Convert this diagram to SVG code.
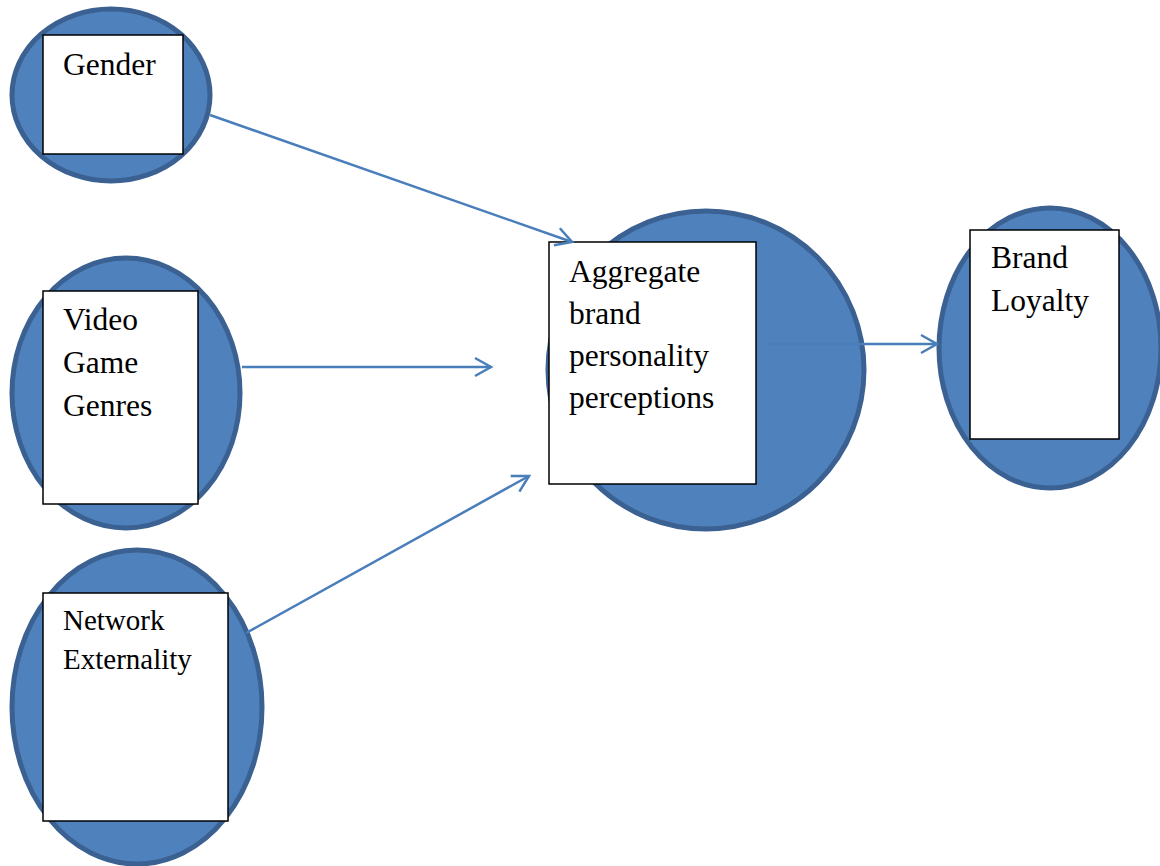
<svg xmlns="http://www.w3.org/2000/svg" width="1160" height="866" viewBox="0 0 1160 866">
<style>
.c{fill:#4F81BD;stroke:#3A6191;stroke-width:5}
.b{fill:#fff;stroke:#000;stroke-width:1.5}
.t{font-family:"Liberation Serif","Times New Roman",serif;font-size:31.5px;fill:#000}
.a{stroke:#4A7EBB;stroke-width:2.5;fill:none}
</style>
<defs>
<marker id="arr" markerUnits="userSpaceOnUse" markerWidth="24" markerHeight="24" refX="20" refY="10" orient="auto" viewBox="0 0 24 20">
<path d="M4,1 L20,10 L4,19" fill="none" stroke="#4A7EBB" stroke-width="2.5"/>
</marker>
</defs>
<rect width="1160" height="866" fill="#fff"/>
<g id="node-gender">
<ellipse class="c" cx="111" cy="95" rx="99" ry="86"/>
<rect class="b" x="43" y="35" width="140" height="119"/>
<text class="t" x="63" y="75">Gender</text>
</g>
<g id="node-genres">
<ellipse class="c" cx="126" cy="393" rx="114" ry="135"/>
<rect class="b" x="43" y="291" width="155" height="213"/>
<text class="t" x="63" y="330">Video</text>
<text class="t" x="63" y="373">Game</text>
<text class="t" x="63" y="416">Genres</text>
</g>
<g id="node-network">
<ellipse class="c" cx="137" cy="707" rx="125" ry="157"/>
<rect class="b" x="43" y="593" width="185" height="228"/>
<text class="t" x="63" y="630" style="font-size:29px">Network</text>
<text class="t" x="63" y="669" style="font-size:29px">Externality</text>
</g>
<g id="node-aggregate">
<ellipse class="c" cx="706" cy="370" rx="158" ry="159"/>
<rect class="b" x="549" y="242" width="207" height="242"/>
<text class="t" x="569" y="282">Aggregate</text>
<text class="t" x="569" y="324">brand</text>
<text class="t" x="569" y="366">personality</text>
<text class="t" x="569" y="408">perceptions</text>
</g>
<g id="node-loyalty">
<ellipse class="c" cx="1050" cy="348" rx="111" ry="140"/>
<rect class="b" x="970" y="230" width="149" height="209"/>
<text class="t" x="991" y="268">Brand</text>
<text class="t" x="991" y="311">Loyalty</text>
</g>
<g id="connectors">
<line class="a" x1="210" y1="115" x2="572" y2="242" marker-end="url(#arr)"/>
<line class="a" x1="242" y1="367" x2="491" y2="367" marker-end="url(#arr)"/>
<line class="a" x1="246" y1="633" x2="529" y2="476" marker-end="url(#arr)"/>
<line class="a" x1="766" y1="344" x2="937" y2="344" marker-end="url(#arr)"/>
</g>
</svg>
